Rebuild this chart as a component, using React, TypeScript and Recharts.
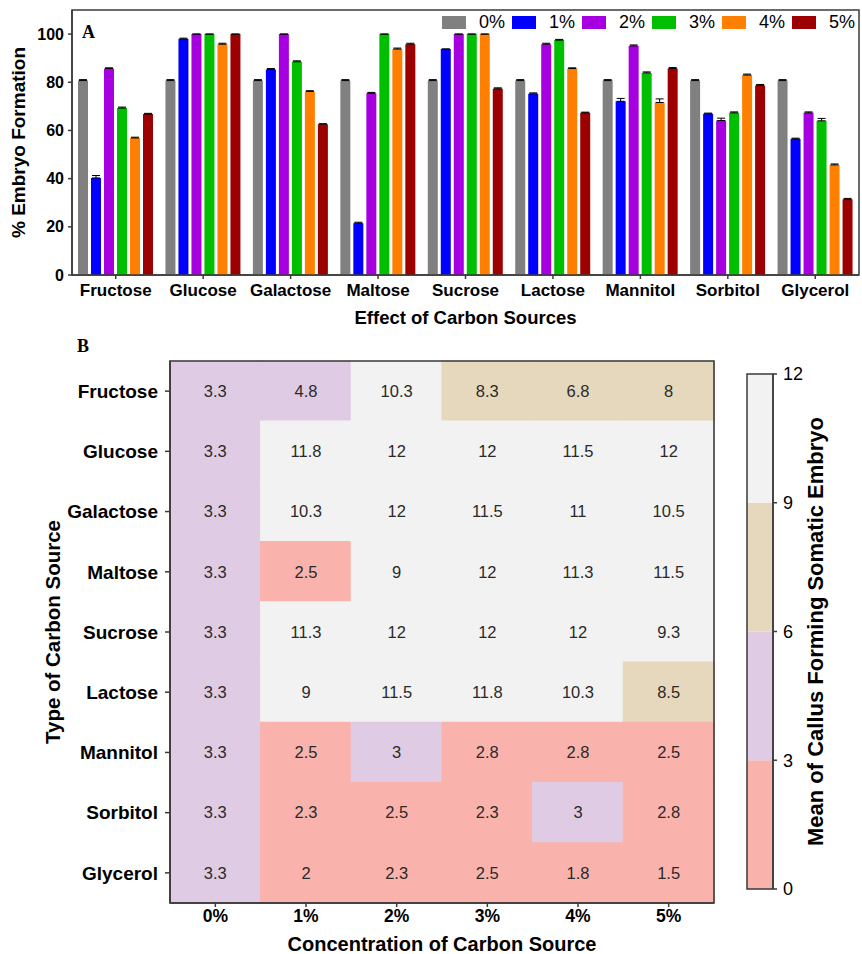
import React from "react";
import { BarChart, Bar, XAxis, YAxis, ErrorBar, Cell, LabelList, ReferenceArea } from "recharts";

const sources = [
  "Fructose",
  "Glucose",
  "Galactose",
  "Maltose",
  "Sucrose",
  "Lactose",
  "Mannitol",
  "Sorbitol",
  "Glycerol",
];
const concentrations = ["0%", "1%", "2%", "3%", "4%", "5%"];

// % embryo formation, one array per concentration (order = sources)
const embryo0 = [80.7, 80.7, 80.7, 80.7, 80.7, 80.7, 80.7, 80.7, 80.7];
const embryo1 = [40.3, 98, 85.3, 21.5, 93.8, 75.2, 72.1, 66.9, 56.5];
const embryo2 = [85.7, 100, 100, 75.4, 100, 95.8, 95.1, 64.1, 67.3];
const embryo3 = [69.3, 100, 88.5, 100, 100, 97.5, 83.9, 67.3, 64.0];
const embryo4 = [56.9, 95.8, 76.2, 93.8, 100, 85.7, 71.6, 83.0, 45.7];
const embryo5 = [66.8, 100, 62.6, 95.8, 77.3, 67.3, 85.7, 78.7, 31.4];

const embryoErr0 = [0.4, 0.4, 0.4, 0.4, 0.4, 0.4, 0.4, 0.4, 0.4];
const embryoErr1 = [1.0, 0.3, 0.4, 0.4, 0, 0.4, 1.2, 0.3, 0.3];
const embryoErr2 = [0.3, 0, 0, 0.4, 0, 0.4, 0.4, 1.0, 0.4];
const embryoErr3 = [0.4, 0, 0.4, 0, 0, 0.3, 0.4, 0.4, 1.0];
const embryoErr4 = [0.3, 0.4, 0.3, 0.4, 0, 0.3, 1.5, 0.4, 0.4];
const embryoErr5 = [0.3, 0, 0.2, 0.4, 0.4, 0.3, 0.4, 0.4, 0.4];

// mean callus forming somatic embryo, one array per concentration
const callus0 = [3.3, 3.3, 3.3, 3.3, 3.3, 3.3, 3.3, 3.3, 3.3];
const callus1 = [4.8, 11.8, 10.3, 2.5, 11.3, 9, 2.5, 2.3, 2];
const callus2 = [10.3, 12, 12, 9, 12, 11.5, 3, 2.5, 2.3];
const callus3 = [8.3, 12, 11.5, 12, 12, 11.8, 2.8, 2.3, 2.5];
const callus4 = [6.8, 11.5, 11, 11.3, 12, 10.3, 2.8, 3, 1.8];
const callus5 = [8, 12, 10.5, 11.5, 9.3, 8.5, 2.5, 2.8, 1.5];

const colorBreaks = [0, 3, 6, 9, 12];
const bandColors = ["#f9b3ac", "#dfcce4", "#e6d8bc", "#f2f2f2"];

const barColors = ["#808080", "#0000ff", "#a600e0", "#00bf00", "#ff8000", "#9c0000"];

const embryoSeries = [embryo0, embryo1, embryo2, embryo3, embryo4, embryo5];
const embryoErrors = [embryoErr0, embryoErr1, embryoErr2, embryoErr3, embryoErr4, embryoErr5];
const callusSeries = [callus0, callus1, callus2, callus3, callus4, callus5];

const barData = sources.map((name, i) => {
  const row: Record<string, any> = { name };
  embryoSeries.forEach((s, j) => {
    row[`c${j}`] = s[i];
    row[`e${j}`] = [0, embryoErrors[j][i]];
  });
  return row;
});

const heatData = sources.map((name, i) => {
  const row: Record<string, any> = { name };
  callusSeries.forEach((s, j) => {
    row[`w${j}`] = 1;
    row[`v${j}`] = s[i];
  });
  return row;
});

const scaleRow: Record<string, any> = { name: "scale" };
bandColors.forEach((_, k) => {
  scaleRow[`s${k}`] = colorBreaks[k + 1] - colorBreaks[k];
});
const scaleData = [scaleRow];

function binColor(v: number): string {
  for (let k = 0; k < bandColors.length; k++) {
    if (v < colorBreaks[k + 1]) return bandColors[k];
  }
  return bandColors[bandColors.length - 1];
}

const FONT = '"Liberation Sans", Arial, sans-serif';
const SERIF = '"Liberation Serif", "Times New Roman", serif';
const FRAME = "#3a3a3a";
const EMBRYO_MAX = 110;

function EmbryoLegend() {
  return (
    <div
      style={{
        position: "absolute",
        left: 442,
        top: 12,
        display: "flex",
        fontFamily: FONT,
        fontSize: 18,
        color: "#000",
      }}
    >
      {concentrations.map((c, j) => (
        <div key={c} style={{ display: "flex", alignItems: "center", width: 70 }}>
          <span
            style={{
              display: "inline-block",
              width: 24,
              height: 13,
              background: barColors[j],
              marginRight: 13,
            }}
          />
          <span>{c}</span>
        </div>
      ))}
    </div>
  );
}

export default function App() {
  return (
    <div
      style={{
        position: "absolute",
        left: 0,
        top: 0,
        width: 862,
        height: 954,
        background: "#fff",
        fontFamily: FONT,
        overflow: "hidden",
      }}
    >
      <div style={{ position: "absolute", left: 0, top: 0 }}>
        <BarChart
          width={862}
          height={335}
          data={barData}
          margin={{ top: 10, right: 3, left: 0, bottom: 0 }}
          barGap={3}
          barSize={10}
        >
          <XAxis
            dataKey="name"
            height={60}
            tickSize={4}
            tickMargin={5}
            stroke={FRAME}
            strokeWidth={1.5}
            tick={{ fill: "#000", fontSize: 17, fontWeight: 700, fontFamily: FONT }}
            label={{
              value: "Effect of Carbon Sources",
              position: "insideBottom",
              offset: 11,
              style: { fontSize: 18.5, fontWeight: 700, fill: "#000", fontFamily: FONT },
            }}
          />
          <YAxis
            domain={[0, EMBRYO_MAX]}
            ticks={[0, 20, 40, 60, 80, 100]}
            width={72}
            tickSize={4}
            tickMargin={4}
            stroke={FRAME}
            strokeWidth={1.5}
            tick={{ fill: "#000", fontSize: 16, fontWeight: 700, fontFamily: FONT }}
            label={{
              value: "% Embryo Formation",
              angle: -90,
              position: "insideLeft",
              offset: 18,
              style: {
                textAnchor: "middle",
                fontSize: 19,
                fontWeight: 700,
                fill: "#000",
                fontFamily: FONT,
              },
            }}
          />
          {concentrations.map((c, j) => (
            <Bar
              key={c}
              dataKey={`c${j}`}
              name={c}
              fill={barColors[j]}
              isAnimationActive={false}
            >
              <ErrorBar dataKey={`e${j}`} width={4} stroke="#000" strokeWidth={1} />
            </Bar>
          ))}
          <ReferenceArea
            y1={0}
            y2={EMBRYO_MAX}
            fill="none"
            fillOpacity={0}
            stroke={FRAME}
            strokeWidth={1.5}
            ifOverflow="visible"
          />
        </BarChart>
      </div>
      <EmbryoLegend />
      <div
        style={{
          position: "absolute",
          left: 82,
          top: 22,
          fontFamily: SERIF,
          fontWeight: 700,
          fontSize: 18,
        }}
      >
        A
      </div>
      <div
        style={{
          position: "absolute",
          left: 77,
          top: 336,
          fontFamily: SERIF,
          fontWeight: 700,
          fontSize: 18,
        }}
      >
        B
      </div>

      <div style={{ position: "absolute", left: 0, top: 330 }}>
        <BarChart
          layout="vertical"
          width={740}
          height={624}
          data={heatData}
          margin={{ top: 31, right: 26, left: 0, bottom: 0 }}
          barCategoryGap={0}
        >
          <XAxis
            type="number"
            domain={[0, concentrations.length]}
            ticks={concentrations.map((_, i) => i + 0.5)}
            tickFormatter={(t: number) => concentrations[Math.floor(t)]}
            height={51}
            tickSize={4}
            tickMargin={3}
            stroke={FRAME}
            strokeWidth={1.5}
            tick={{ fill: "#000", fontSize: 17.5, fontWeight: 700, fontFamily: FONT }}
            label={{
              value: "Concentration of Carbon Source",
              position: "insideBottom",
              offset: 3,
              style: { fontSize: 20, fontWeight: 700, fill: "#000", fontFamily: FONT },
            }}
          />
          <YAxis
            type="category"
            dataKey="name"
            width={170}
            tickSize={5}
            tickMargin={7}
            stroke={FRAME}
            strokeWidth={1.5}
            tick={{ fill: "#000", fontSize: 19, fontWeight: 700, fontFamily: FONT }}
            label={{
              value: "Type of Carbon Source",
              angle: -90,
              position: "insideLeft",
              offset: 53,
              style: {
                textAnchor: "middle",
                fontSize: 20.5,
                fontWeight: 700,
                fill: "#000",
                fontFamily: FONT,
              },
            }}
          />
          {concentrations.map((c, j) => (
            <Bar key={c} dataKey={`w${j}`} stackId="h" isAnimationActive={false}>
              {heatData.map((row) => (
                <Cell
                  key={row.name}
                  fill={binColor(row[`v${j}`])}
                  stroke={binColor(row[`v${j}`])}
                  strokeWidth={1.2}
                />
              ))}
              <LabelList
                dataKey={`v${j}`}
                position="center"
                fill="#2a2a2a"
                fontSize={16.5}
                fontFamily={FONT}
                style={{ fontSize: 16.5 }}
              />
            </Bar>
          ))}
          <ReferenceArea
            x1={0}
            x2={concentrations.length}
            y1={sources[0]}
            y2={sources[sources.length - 1]}
            fill="none"
            fillOpacity={0}
            stroke={FRAME}
            strokeWidth={1.6}
            ifOverflow="visible"
            zIndex={1000}
          />
        </BarChart>
      </div>

      <div style={{ position: "absolute", left: 740, top: 330 }}>
        <BarChart
          width={122}
          height={624}
          data={scaleData}
          margin={{ top: 44, right: 0, left: 7, bottom: 65 }}
          barCategoryGap={0}
        >
          <XAxis dataKey="name" hide />
          <YAxis
            orientation="right"
            domain={[0, 12]}
            ticks={colorBreaks}
            width={89}
            tickSize={4}
            tickMargin={6}
            stroke={FRAME}
            strokeWidth={1.5}
            tick={{ fill: "#000", fontSize: 18, fontFamily: FONT }}
            label={{
              value: "Mean of Callus Forming Somatic Embryo",
              angle: -90,
              position: "insideLeft",
              offset: 42,
              style: {
                textAnchor: "middle",
                fontSize: 22,
                fontWeight: 700,
                fill: "#000",
                fontFamily: FONT,
              },
            }}
          />
          {bandColors.map((col, k) => (
            <Bar
              key={col}
              dataKey={`s${k}`}
              stackId="scale"
              fill={col}
              isAnimationActive={false}
            />
          ))}
          <ReferenceArea
            y1={0}
            y2={12}
            fill="none"
            fillOpacity={0}
            stroke={FRAME}
            strokeWidth={1.5}
            ifOverflow="visible"
            zIndex={1000}
          />
        </BarChart>
      </div>
    </div>
  );
}
